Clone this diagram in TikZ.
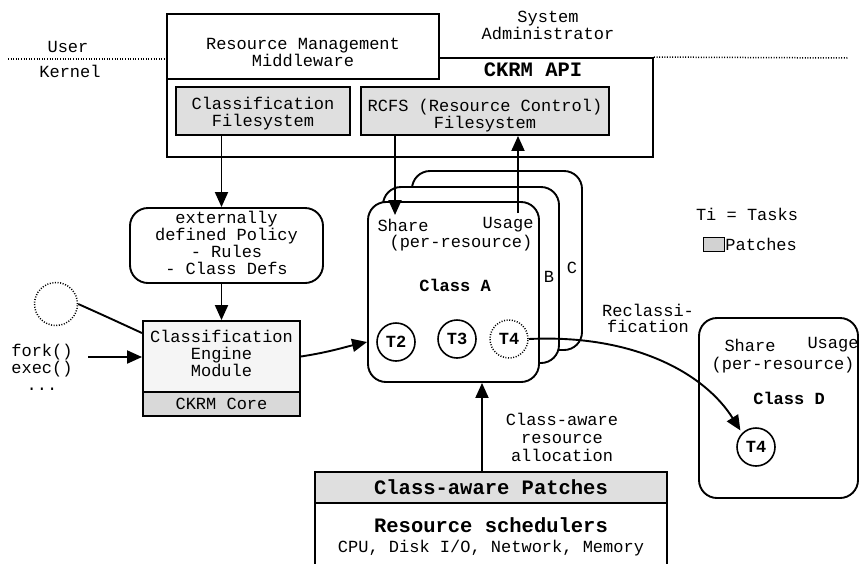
\documentclass[tikz,border=0pt]{standalone}
\usepackage{fontspec}
\setmainfont{Liberation Mono}
\usetikzlibrary{arrows.meta}
\begin{document}
\begin{tikzpicture}[x=1pt,y=-1pt,
  txt/.style={font=\fontsize{17}{17}\selectfont, align=center, inner sep=1pt},
  boldtxt/.style={font=\fontsize{17}{17}\selectfont\bfseries, align=center, inner sep=1pt},
  bigtxt/.style={font=\fontsize{20.5}{21}\selectfont\bfseries, align=center, inner sep=1pt},
  box/.style={draw, line width=1.9pt, rectangle, inner sep=2pt, txt},
  rbox/.style={box, rounded corners=18pt},
  task/.style={draw, circle, line width=1.6pt, minimum size=38pt, inner sep=0pt, font=\fontsize{17}{17}\selectfont\bfseries},
  udot/.style={line width=1.5pt, dash pattern=on 1pt off 1.6pt},
  arr/.style={line width=1.9pt, -{Triangle[length=15pt,width=13pt]}},
  conn/.style={line width=1.9pt},
]
\useasboundingbox (0,0) rectangle (861,563);
\fill[white] (0,0) rectangle (861,563);

% top area
\node[box, minimum width=486pt, minimum height=99pt] (api) at (410,107.5) {};
\node[box, fill=white, minimum width=272pt, minimum height=65pt] (mw) at (303,46.5) {};
\node[txt] (mwLbl) at (303,52.5) {Resource Management\\Middleware};
\node[bigtxt] (apilbl) at (533,70) {CKRM API};
\node[box, fill=gray!25, minimum width=174pt, minimum height=48pt] (cfs) at (263,111) {};
\node[txt] (cfsLbl) at (263,114) {Classification\\Filesystem};
\node[box, fill=gray!25, minimum width=248pt, minimum height=48pt] (rcfs) at (485,111) {};
\node[txt] (rcfsLbl) at (485,115.5) {RCFS (Resource Control)\\Filesystem};
\node[txt] (sys) at (548,25) {System\\Administrator};
\node[txt] (user) at (68,47) {User};
\node[txt] (kern) at (70,71) {Kernel};
\coordinate (ukL) at (8,59);
\coordinate (ukR) at (848,58);
\draw[udot] (ukL) -- (ukL -| mw.west);
\draw[udot] (api.north east) -- (ukR);

% left column
\node[rbox, minimum width=193pt, minimum height=75pt] (policy) at (226.5,245.5) {};
\node[txt] (policyLbl) at (226.5,243) {externally\\defined Policy\\- Rules\\- Class Defs};
\node[box, fill=gray!8, minimum width=157pt, minimum height=71pt] (engine) at (221.5,356.5) {};
\node[txt] (engineLbl) at (221.5,353) {Classification\\Engine\\Module};
\node[box, fill=gray!30, minimum width=157pt, minimum height=24pt] (core) at (221.5,404) {CKRM Core};
\node[draw, circle, udot, minimum size=43pt, inner sep=0pt] (ext) at (56,304) {};
\node[txt] (fork) at (42,367) {fork()\\exec()\\...};
\coordinate (forkout) at (88,357);

% classes
\node[rbox, fill=white, minimum width=170pt, minimum height=179pt] (classC) at (497,260.5) {};
\node[rbox, fill=white, minimum width=176pt, minimum height=176pt] (classB) at (471,275) {};
\node[rbox, fill=white, minimum width=171pt, minimum height=180pt] (classA) at (453.5,292) {};
\node[txt] (lblB) at (549,277) {B};
\node[txt] (lblC) at (572,268) {C};
\node[txt] (shareA) at (403,225) {Share};
\node[txt] (usageA) at (508,225) {Usage};
\node[txt] (perA) at (461,243) {(per-resource)};
\node[boldtxt] (nameA) at (455,285) {Class A};
\node[task] (T2) at (396,342) {T2};
\node[task] (T3) at (457,339) {T3};
\node[task, udot] (T4) at (509,339) {T4};

% class D
\node[rbox, minimum width=159pt, minimum height=180pt] (classD) at (778.5,408) {};
\node[txt] (shareD) at (750,345) {Share};
\node[txt] (usageD) at (833,345) {Usage};
\node[txt] (perD) at (783,365) {(per-resource)};
\node[boldtxt] (nameD) at (789,398) {Class D};
\node[task] (T4d) at (756,447) {T4};

% legend
\node[txt] (tasksLbl) at (747,214) {Ti = Tasks};
\node[draw, line width=1.5pt, fill=gray!35, minimum width=21pt, minimum height=14pt, inner sep=0pt] (legbox) at (714,244.5) {};
\node[txt, anchor=west, inner sep=0pt] (legtxt) at (legbox.east) {Patches};

\node[txt, font=\fontsize{17}{16}\selectfont] (recl) at (648,318) {Reclassi-\\fication};
\node[txt, font=\fontsize{17}{18}\selectfont] (alloc) at (562,437) {Class-aware\\resource\\allocation};

% bottom
\node[box, fill=gray!25, minimum width=352pt, minimum height=31pt, font=\fontsize{20.5}{21}\selectfont\bfseries] (patches) at (491,487.5) {Class-aware Patches};
\node[minimum width=352pt, minimum height=62pt, inner sep=0pt] (sched) at (491,534) {};
\draw[conn] (sched.south west) -- (sched.north west) -- (sched.north east) -- (sched.south east);
\node[bigtxt] (schedLbl) at (491,525) {Resource schedulers};
\node[txt] (schedRes) at (491,548) {CPU, Disk I/O, Network, Memory};

% connectors
\draw[arr] (cfs.south -| engine.north) -- (policy.north -| engine.north);
\draw[arr] (policy.south -| engine.north) -- (engine.north);
\coordinate (shareIn) at (395,215);
\draw[arr] (rcfs.south -| shareIn) -- (shareIn);
\coordinate (usageOut) at (518,213);
\draw[arr] (usageOut) -- (usageOut |- rcfs.south);
\path (patches.north) ++(-9,0) coordinate (allocIn);
\draw[arr] (allocIn) -- (allocIn |- classA.south);
\draw[arr] (engine.east) .. controls (330,352) and (345,347) .. (classA.west |- T2);
\draw[arr] (forkout) -- (forkout -| engine.west);
\draw[conn] (ext.east) .. controls (105,316) .. ([yshift=-13pt]engine.north west);
\draw[arr, shorten >=3pt] (T4.east) .. controls (635,334) and (705,374) .. (T4d.north west);
\end{tikzpicture}
\end{document}
